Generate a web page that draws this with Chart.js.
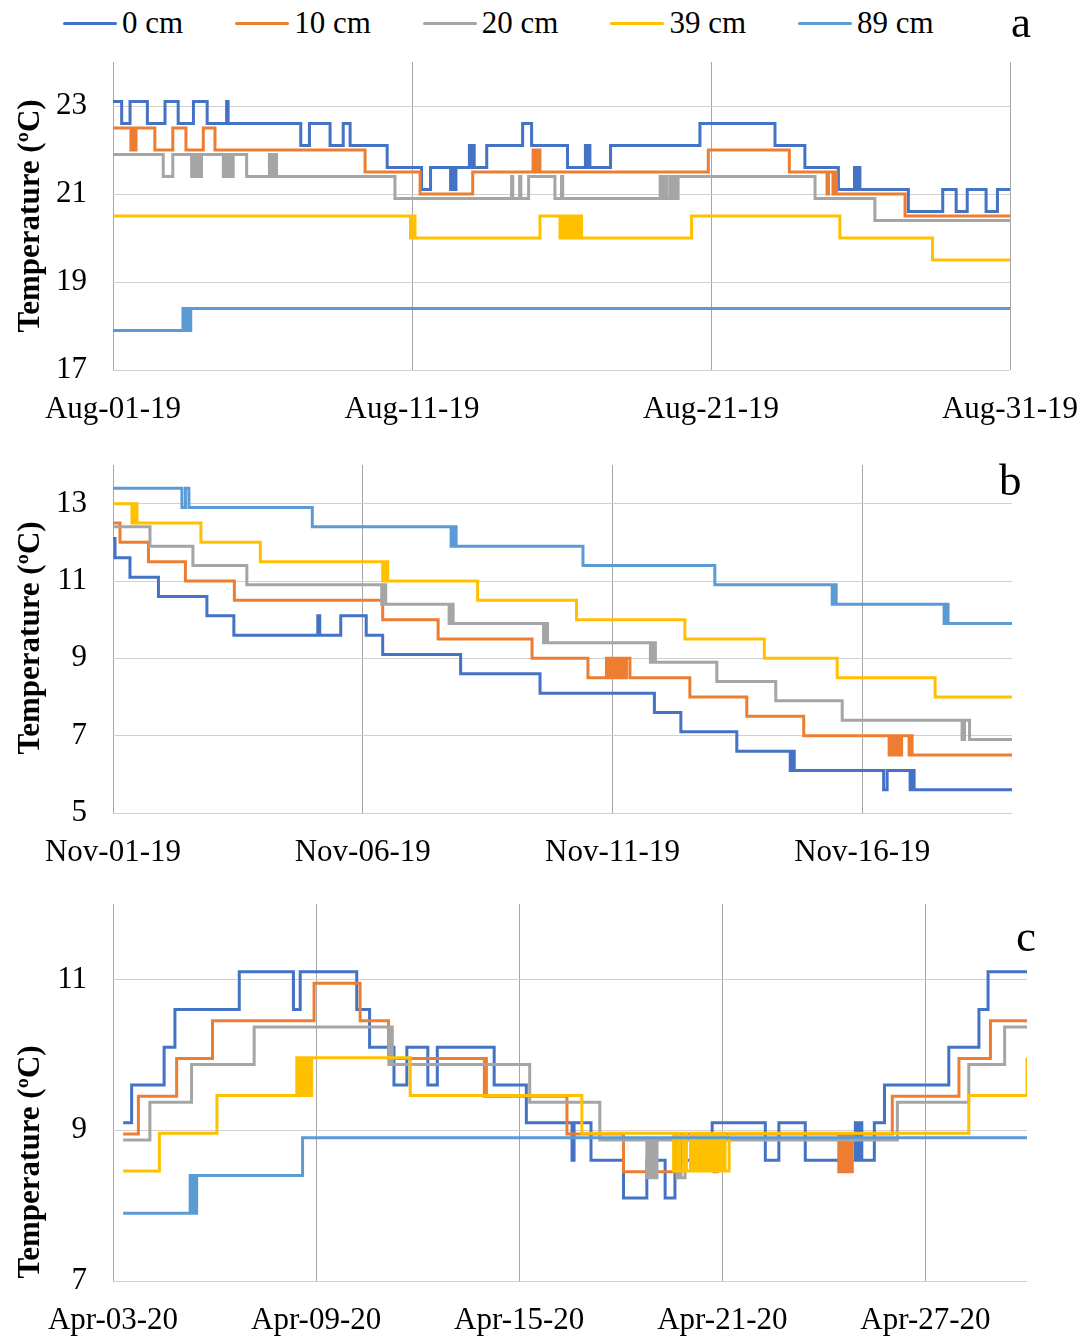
<!DOCTYPE html>
<html>
<head>
<meta charset="utf-8">
<script src="https://cdn.jsdelivr.net/npm/chart.js@4.4.0/dist/chart.umd.min.js"></script>
<style>
  body { margin: 0; background: #fff; width: 1090px; height: 1339px; position: relative; overflow: hidden; }
  canvas { position: absolute; left: 0; }
  #legend { position: absolute; left: 63px; top: 5px; display: flex; align-items: center;
            font: 31px "Liberation Serif", "Times New Roman", serif; color: #000; white-space: nowrap; }
  #legend .item { display: flex; align-items: center; margin-right: 52px; }
  #legend .line { display: inline-block; width: 54px; height: 3px; margin-right: 5px; border-radius: 2px; }
</style>
</head>
<body>
<div id="legend"></div>
<canvas id="chartA" width="1090" height="430" style="top:0px"></canvas>
<canvas id="chartB" width="1090" height="443" style="top:430px"></canvas>
<canvas id="chartC" width="1090" height="466" style="top:873px"></canvas>
<script>
'use strict';

const depths = ['0 cm', '10 cm', '20 cm', '39 cm', '89 cm'];
const colors = ['#4472C4', '#ED7D31', '#A5A5A5', '#FFC000', '#5B9BD5'];

const augTicks = ['Aug-01-19', 'Aug-11-19', 'Aug-21-19', 'Aug-31-19'];
const novTicks = ['Nov-01-19', 'Nov-06-19', 'Nov-11-19', 'Nov-16-19'];
const aprTicks = ['Apr-03-20', 'Apr-09-20', 'Apr-15-20', 'Apr-21-20', 'Apr-27-20'];
const augTempTicks = [17, 19, 21, 23];
const novTempTicks = [5, 7, 9, 11, 13];
const aprTempTicks = [7, 9, 11];

// [days since first date, temperature ºC]
const aug0 = [[0,23.1],[0.29,22.6],[0.57,23.1],[1.15,22.6],[1.74,23.1],[2.18,22.6],[2.69,23.1],[3.15,22.6],[3.8,23.1],[3.85,22.6],
  [6.28,22.1],[6.57,22.6],[7.26,22.1],[7.7,22.6],[7.93,22.1],[9.17,21.6],[10.32,21.1],[10.62,21.6],[11.29,21.1],[11.35,21.6],
  [11.41,21.1],[11.47,21.6],[11.92,22.1],[11.97,21.6],[12.03,22.1],[12.08,21.6],[12.5,22.1],[13.7,22.6],[14.0,22.1],[15.2,21.6],
  [15.8,22.1],[15.85,21.6],[15.9,22.1],[15.95,21.6],[16.64,22.1],[19.63,22.6],[22.14,22.1],[23.14,21.6],[24.26,21.1],[24.8,21.6],
  [24.86,21.1],[24.92,21.6],[24.98,21.1],[26.6,20.6],[27.75,21.1],[28.2,20.6],[28.57,21.1],[29.2,20.6],[29.58,21.1],[30,21.1]];
const aug10 = [[0,22.5],[0.6,22.0],[0.67,22.5],[0.72,22.0],[0.77,22.5],[1.4,22.0],[2.0,22.5],[2.44,22.0],[3.02,22.5],[3.41,22.0],
  [8.43,21.5],[10.27,21.0],[12.03,21.5],[14.05,22.0],[14.12,21.5],[14.18,22.0],[14.28,21.5],[19.91,22.0],[22.62,21.5],[23.88,21.0],
  [23.93,21.5],[24.08,21.0],[24.14,21.5],[24.2,21.0],[26.49,20.5],[30,20.5]];
const aug20 = [[0,21.9],[1.68,21.4],[2.0,21.9],[2.63,21.4],[2.7,21.9],[2.76,21.4],[2.82,21.9],[2.89,21.4],[2.96,21.9],[3.69,21.4],
  [3.76,21.9],[3.83,21.4],[3.9,21.9],[3.96,21.4],[4.02,21.9],[4.47,21.4],[5.23,21.9],[5.3,21.4],[5.37,21.9],[5.47,21.4],
  [9.43,20.9],[13.33,21.4],[13.37,20.9],[13.6,21.4],[13.64,20.9],[13.9,21.4],[14.78,20.9],[15.0,21.4],[15.04,20.9],[18.3,21.4],
  [18.37,20.9],[18.44,21.4],[18.51,20.9],[18.62,21.4],[18.69,20.9],[18.76,21.4],[18.83,20.9],[18.9,21.4],[23.48,20.9],[25.48,20.4],[30,20.4]];
const aug39 = [[0,20.5],[9.95,20.0],[10.02,20.5],[10.1,20.0],[14.28,20.5],[14.95,20.0],[15.03,20.5],[15.11,20.0],[15.19,20.5],[15.27,20.0],
  [15.35,20.5],[15.43,20.0],[15.51,20.5],[15.59,20.0],[15.63,20.5],[15.67,20.0],[19.35,20.5],[24.31,20.0],[27.41,19.5],[30,19.5]];
const aug89 = [[0,17.9],[2.34,18.4],[2.4,17.9],[2.46,18.4],[2.52,17.9],[2.6,18.4],[30,18.4]];

const nov0 = [[0,12.1],[0.04,11.6],[0.34,11.1],[0.91,10.6],[1.88,10.1],[2.42,9.6],[4.1,10.1],[4.14,9.6],[4.56,10.1],[5.07,9.6],
  [5.4,9.1],[6.96,8.6],[8.55,8.1],[10.84,7.6],[11.37,7.1],[12.49,6.6],[13.56,6.1],[13.6,6.6],[13.64,6.1],[15.43,5.6],
  [15.5,6.1],[15.96,5.6],[16.0,6.1],[16.04,5.6],[18,5.6]];
const nov10 = [[0,12.5],[0.14,12.0],[0.71,11.5],[1.45,11.0],[2.43,10.5],[5.4,10.0],[6.51,9.5],[8.39,9.0],[9.51,8.5],[9.88,9.0],
  [9.93,8.5],[9.98,9.0],[10.03,8.5],[10.08,9.0],[10.13,8.5],[10.18,9.0],[10.23,8.5],[10.28,9.0],[10.35,8.5],[11.55,8.0],
  [12.69,7.5],[13.83,7.0],[15.54,6.5],[15.59,7.0],[15.64,6.5],[15.69,7.0],[15.74,6.5],[15.79,7.0],[15.94,6.5],[15.97,7.0],
  [16.0,6.5],[18,6.5]];
const nov20 = [[0,12.4],[0.74,11.9],[1.6,11.4],[2.68,10.9],[5.38,10.4],[5.42,10.9],[5.46,10.4],[6.73,9.9],[6.77,10.4],[6.81,9.9],
  [8.62,9.4],[8.66,9.9],[8.7,9.4],[10.76,8.9],[10.8,9.4],[10.86,8.9],[12.09,8.4],[13.27,7.9],[14.6,7.4],[17.0,6.9],
  [17.05,7.4],[17.15,6.9],[18,6.9]];
const nov39 = [[0,13.0],[0.38,12.5],[0.43,13.0],[0.48,12.5],[1.76,12.0],[2.95,11.5],[5.4,11.0],[5.45,11.5],[5.5,11.0],[7.3,10.5],
  [9.28,10.0],[11.45,9.5],[13.04,9.0],[14.5,8.5],[16.46,8.0],[18,8.0]];
const nov89 = [[0,13.4],[1.38,12.9],[1.45,13.4],[1.52,12.9],[3.99,12.4],[6.77,11.9],[6.82,12.4],[6.87,11.9],[9.41,11.4],[12.05,10.9],
  [14.4,10.4],[14.44,10.9],[14.48,10.4],[16.64,9.9],[16.68,10.4],[16.72,9.9],[18,9.9]];

const apr0 = [[0.3,9.1],[0.55,9.6],[1.51,10.1],[1.83,10.6],[3.73,11.1],[5.33,10.6],[5.53,11.1],[7.2,10.6],[7.58,10.1],[8.3,9.6],
  [8.68,10.1],[9.3,9.6],[9.58,10.1],[11.26,9.6],[12.21,9.1],[13.56,8.6],[13.62,9.1],[14.12,8.6],[15.08,8.1],[15.77,8.6],
  [16.31,8.1],[16.6,8.6],[17.7,9.1],[19.27,8.6],[19.67,9.1],[20.45,8.6],[21.93,9.1],[21.99,8.6],[22.05,9.1],[22.12,8.6],
  [22.49,9.1],[22.79,9.6],[24.69,10.1],[25.58,10.6],[25.85,11.1],[27,11.1]];
const apr10 = [[0.3,8.95],[0.75,9.45],[1.88,9.95],[2.94,10.45],[5.94,10.95],[7.3,10.45],[8.14,9.95],[10.97,9.45],[11.0,9.95],[11.03,9.45],
  [13.41,8.95],[15.08,8.45],[16.6,8.95],[17.75,8.45],[17.85,8.95],[21.44,8.45],[21.5,8.95],[21.56,8.45],[21.62,8.95],[21.68,8.45],
  [21.74,8.95],[21.8,8.45],[21.84,8.95],[23.02,9.45],[24.99,9.95],[25.92,10.45],[27,10.45]];
const apr20 = [[0.3,8.87],[1.09,9.37],[2.32,9.87],[4.17,10.37],[8.15,9.87],[8.2,10.37],[8.25,9.87],[12.31,9.37],[14.38,8.87],[15.77,8.37],
  [15.84,8.87],[15.9,8.37],[15.97,8.87],[16.03,8.37],[16.07,8.87],[16.66,8.37],[16.72,8.87],[16.78,8.37],[16.9,8.87],[23.17,9.37],
  [25.28,9.87],[26.34,10.37],[27,10.37]];
const apr39 = [[0.3,8.46],[1.37,8.96],[3.07,9.46],[5.43,9.96],[5.5,9.46],[5.57,9.96],[5.64,9.46],[5.71,9.96],[5.78,9.46],[5.87,9.96],
  [8.78,9.46],[13.85,8.96],[16.56,8.46],[16.66,8.96],[16.74,8.46],[16.86,8.96],[16.94,8.46],[17.06,8.96],[17.12,8.46],[17.2,8.96],
  [17.28,8.46],[17.36,8.96],[17.44,8.46],[17.52,8.96],[17.6,8.46],[17.68,8.96],[17.76,8.46],[17.84,8.96],[17.92,8.46],[18.0,8.96],
  [18.08,8.46],[18.2,8.96],[25.28,9.46],[27,9.96]];
const apr89 = [[0.3,7.9],[2.28,8.4],[2.33,7.9],[2.38,8.4],[2.43,7.9],[2.47,8.4],[5.6,8.9],[27,8.9]];

const serif = '"Liberation Serif", "Times New Roman", serif';

// legend
const legend = document.getElementById('legend');
depths.forEach((d, i) => {
  const item = document.createElement('span');
  item.className = 'item';
  item.innerHTML = '<span class="line" style="background:' + colors[i] + '"></span>' + d;
  legend.appendChild(item);
});

// y-axis title and the panel letter
const panelText = {
  id: 'panelText',
  afterDraw(chart, args, o) {
    const ctx = chart.ctx;
    ctx.save();
    ctx.fillStyle = '#000';
    ctx.font = 'bold 31px ' + serif;
    ctx.textAlign = 'center';
    ctx.textBaseline = 'middle';
    ctx.translate(31, o.titleY);
    ctx.rotate(-Math.PI / 2);
    ctx.fillText('Temperature (ºC)', 0, 0);
    ctx.restore();
    ctx.save();
    ctx.fillStyle = '#000';
    ctx.font = '45px ' + serif;
    ctx.textBaseline = 'alphabetic';
    ctx.fillText(o.letter, o.letterX, o.letterY);
    ctx.restore();
  }
};

function makeChart(id, series, p) {
  new Chart(document.getElementById(id), {
    type: 'line',
    data: {
      datasets: series.map((s, i) => ({
        label: depths[i],
        data: s,
        borderColor: colors[i],
        backgroundColor: colors[i],
        borderWidth: 3,
        pointRadius: 0,
        stepped: 'before',
        fill: false,
        order: series.length - i
      }))
    },
    options: {
      responsive: false,
      animation: false,
      events: [],
      layout: { padding: { top: p.padTop, right: p.padRight, bottom: 0, left: 0 } },
      scales: {
        x: {
          type: 'linear',
          min: 0,
          max: p.xMax,
          border: { display: false },
          grid: { color: '#a6a6a6', lineWidth: 1, drawTicks: false },
          ticks: {
            stepSize: p.xStep,
            includeBounds: false,
            autoSkip: false,
            maxRotation: 0,
            padding: 21,
            color: '#000',
            font: { family: serif, size: 31 },
            callback: v => p.xLabels[Math.round(v / p.xStep)]
          },
          afterFit(s) { s.height = p.xHeight; s.paddingLeft = 0; s.paddingRight = 0; }
        },
        y: {
          min: p.yMin,
          max: p.yMax,
          border: { display: false },
          grid: { color: '#d0d0d0', lineWidth: 1, drawTicks: false },
          afterBuildTicks(s) { s.ticks = p.yTicks.map(v => ({ value: v })); },
          ticks: {
            padding: 26,
            color: '#000',
            font: { family: serif, size: 31 }
          },
          afterFit(s) { s.width = 113; s.paddingTop = 0; s.paddingBottom = 0; }
        }
      },
      plugins: {
        legend: { display: false },
        tooltip: { enabled: false },
        panelText: { titleY: p.titleY, letter: p.letter, letterX: p.letterX, letterY: p.letterY }
      }
    },
    plugins: [panelText]
  });
}

makeChart('chartA', [aug0, aug10, aug20, aug39, aug89], {
  padTop: 62, padRight: 80, xHeight: 60, xMax: 30, xStep: 10, xLabels: augTicks,
  yMin: 17, yMax: 24, yTicks: augTempTicks, titleY: 216, letter: 'a', letterX: 1011, letterY: 37
});
makeChart('chartB', [nov0, nov10, nov20, nov39, nov89], {
  padTop: 35, padRight: 78, xHeight: 60, xMax: 18, xStep: 5, xLabels: novTicks,
  yMin: 5, yMax: 14, yTicks: novTempTicks, titleY: 208, letter: 'b', letterX: 999, letterY: 65
});
makeChart('chartC', [apr0, apr10, apr20, apr39, apr89], {
  padTop: 31, padRight: 63, xHeight: 58, xMax: 27, xStep: 6, xLabels: aprTicks,
  yMin: 7, yMax: 12, yTicks: aprTempTicks, titleY: 289, letter: 'c', letterX: 1016, letterY: 78
});
</script>
</body>
</html>
